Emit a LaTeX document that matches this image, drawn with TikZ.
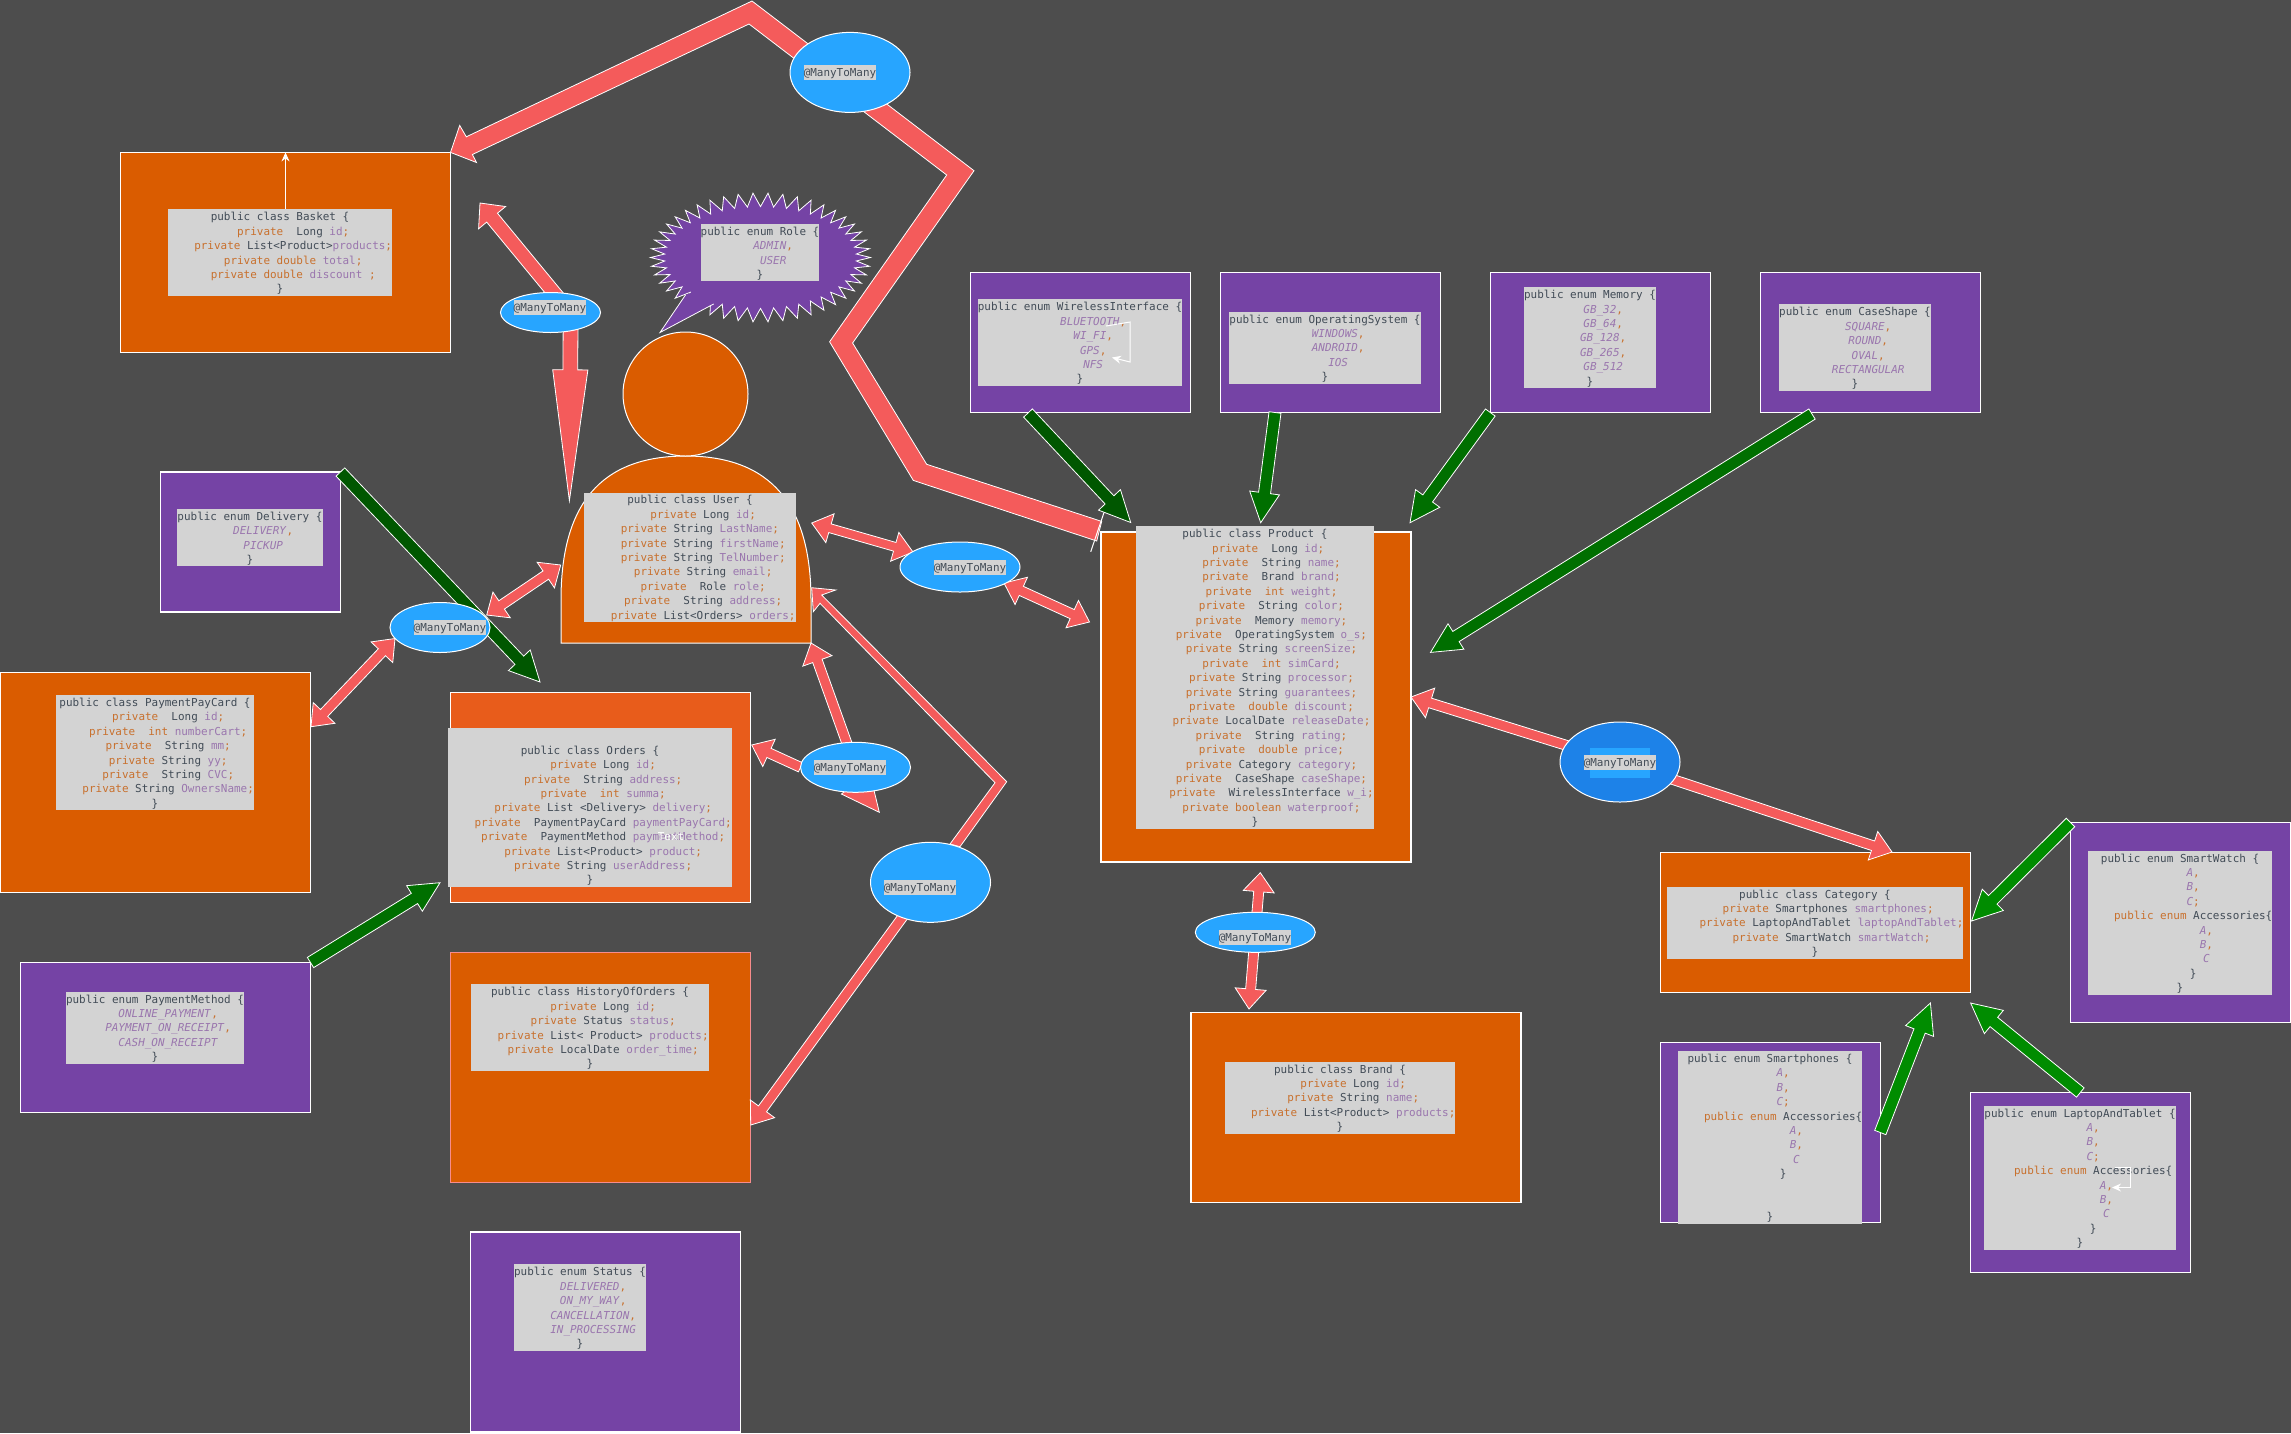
\documentclass[tikz,border=0pt]{standalone}
\usepackage{fontspec}
\setmainfont{DejaVu Sans Mono}
\usepackage{xcolor}
\usetikzlibrary{arrows.meta,calc,positioning,shapes.geometric}

\definecolor{canvasgray}{HTML}{4D4D4D}
\definecolor{classorange}{HTML}{DA5C00}
\definecolor{ordersorange}{HTML}{E85C1B}
\definecolor{enumpurple}{HTML}{7543A5}
\definecolor{codegray}{HTML}{D3D3D3}
\definecolor{codetext}{HTML}{414B56}
\definecolor{kwcolor}{HTML}{C8702D}
\definecolor{fdcolor}{HTML}{9A76AE}
\definecolor{linkred}{HTML}{F45B5B}
\definecolor{manyblue}{HTML}{27A5FF}
\definecolor{deepblue}{HTML}{1D82E8}
\definecolor{greendark}{HTML}{005700}
\definecolor{greenmid}{HTML}{006F00}
\definecolor{greenlight}{HTML}{008C00}

\newcommand{\kw}[1]{\textcolor{kwcolor}{#1}}
\newcommand{\fd}[1]{\textcolor{fdcolor}{#1}\kw{;}}
\newcommand{\ev}[1]{\textcolor{fdcolor}{\textit{#1}}}
\newcommand{\evc}[1]{\ev{#1}\kw{,}}
\newcommand{\lead}{~~~~}
\newcommand{\fs}{\rule{0pt}{10.6pt}}

\tikzset{
  flexlink/.style n args={3}{to path={
    ($(\tikztotarget)!#3pt!(\tikztostart)$) coordinate (fc)
    ($(\tikztostart)!#1pt!90:(\tikztotarget)$)
    -- ($(fc)!#1pt!-90:(\tikztostart)$) -- ($(fc)!#2pt!-90:(\tikztostart)$)
    -- (\tikztotarget)
    -- ($(fc)!#2pt!90:(\tikztostart)$) -- ($(fc)!#1pt!90:(\tikztostart)$)
    -- ($(\tikztostart)!#1pt!-90:(\tikztotarget)$) -- cycle}},
  flexboth/.style n args={3}{to path={
    ($(\tikztostart)!#3pt!(\tikztotarget)$) coordinate (fa)
    ($(\tikztotarget)!#3pt!(\tikztostart)$) coordinate (fb)
    (\tikztostart)
    -- ($(fa)!#2pt!90:(fb)$) -- ($(fa)!#1pt!90:(fb)$)
    -- ($(fb)!#1pt!-90:(fa)$) -- ($(fb)!#2pt!-90:(fa)$)
    -- (\tikztotarget)
    -- ($(fb)!#2pt!90:(fa)$) -- ($(fb)!#1pt!90:(fa)$)
    -- ($(fa)!#1pt!-90:(fb)$) -- ($(fa)!#2pt!-90:(fb)$) -- cycle}}
}

\pgfdeclarelayer{front}
\pgfsetlayers{main,front}

\begin{document}
\begin{tikzpicture}[x=1pt,y=-1pt]
	\tikzstyle{classbox}
	  =[draw=white, fill=classorange, rectangle, line width=1.2, outer sep=0, inner sep=0]
	\tikzstyle{enumbox}
	  =[draw=white, fill=enumpurple, rectangle, line width=1.2, outer sep=0, inner sep=0]
	\tikzstyle{codebox}
	  =[fill=codegray, rectangle, inner sep=0, align=center, text=codetext,
	  font=\fontsize{10.95}{14.4}\selectfont]
	\tikzstyle{manybox}
	  =[draw=white, fill=manyblue, ellipse, line width=1, inner sep=0, outer sep=0]
	\tikzstyle{manylabel}
	  =[fill=codegray, rectangle, inner sep=0, text=codetext, minimum height=15,
	  font=\fontsize{10.95}{14.4}\selectfont,
	  execute at begin node={\rule{0pt}{11.4pt}},
	  execute at end node={\rule[-3pt]{0pt}{3pt}}]
	\tikzstyle{redlink}
	  =[draw=white, fill=linkred, line width=0.8, line join=miter]
	\tikzstyle{greenA}
	  =[draw=white, fill=greendark, line width=0.8]
	\tikzstyle{greenB}
	  =[draw=white, fill=greenmid, line width=0.8]
	\tikzstyle{greenC}
	  =[draw=white, fill=greenlight, line width=0.8]
	\tikzstyle{thinwhite}
	  =[draw=white, line width=1, -{Stealth[length=9pt,width=8pt]}]

	\useasboundingbox (0,0) rectangle (2291,1433);
	\fill[canvasgray] (0,0) rectangle (2291,1433);

	\node[classbox, minimum width=330, minimum height=200] (basket)
	  at (285.5,252.4) {};
	\node[classbox, minimum width=310, minimum height=220] (paycard)
	  at (155.4,782.5) {};
	\node[classbox, fill=ordersorange, minimum width=300, minimum height=210] (orders)
	  at (600.5,797.5) {};
	\node[classbox, draw=linkred!70!white, minimum width=300, minimum height=230] (history)
	  at (600.4,1067.4) {};
	\node[classbox, minimum width=330, minimum height=190] (brand)
	  at (1356,1107.5) {};
	\node[classbox, minimum width=310, minimum height=330] (product)
	  at (1256,697) {};
	\node[classbox, minimum width=310, minimum height=140] (category)
	  at (1815.6,922.5) {};

	\node[enumbox, minimum width=180, minimum height=140] (delivery)
	  at (250.4,542) {};
	\node[enumbox, minimum width=290, minimum height=150] (paymethod)
	  at (165.5,1037.5) {};
	\node[enumbox, minimum width=270, minimum height=200] (status)
	  at (605.5,1332) {};
	\node[enumbox, minimum width=220, minimum height=140] (wireless)
	  at (1080.3,342.5) {};
	\node[enumbox, minimum width=220, minimum height=140] (opsystem)
	  [right=30pt of wireless] {};
	\node[enumbox, minimum width=220, minimum height=140] (memory)
	  [right=50pt of opsystem] {};
	\node[enumbox, minimum width=220, minimum height=140] (caseshape)
	  [right=50pt of memory] {};
	\node[enumbox, minimum width=220, minimum height=200] (smartwatch)
	  at (2180.5,922.5) {};
	\node[enumbox, minimum width=220, minimum height=180] (smartphones)
	  at (1770.3,1132.5) {};
	\node[enumbox, minimum width=220, minimum height=180] (laptop)
	  at (2080.3,1182.5) {};

	\fill[classorange] (561,643) -- (561,600) .. controls (561,505) and (600,456) .. (685.7,456)
	  .. controls (771,456) and (811,505) .. (811,600) -- (811,643) -- cycle;
	\draw[white, line width=1] (561,643) -- (561,600) .. controls (561,505) and (600,456) .. (685.7,456)
	  .. controls (771,456) and (811,505) .. (811,600) -- (811,643) -- cycle;
	\node[classbox, ellipse, line width=1, minimum width=125, minimum height=124] (userhead)
	  at (685.5,394) {};
	\coordinate (usercorner) at (811,643);

	\draw[enumbox, line width=0.8] plot[samples=92, domain=0:91]
	  ({760.5+(103+7*cos(180*\x))*cos(\x*3.913)},{257.5+(57.7+6.8*cos(180*\x))*sin(\x*3.913)}) -- cycle;
	\fill[enumpurple] (660,332.5) -- (685.7,294.6) -- (730,280) -- (713.8,303.9) -- cycle;
	\draw[white, line width=0.8] (685.7,294.6) -- (660,332.5) -- (713.8,303.9);

	\node[codebox, minimum width=224, minimum height=87] (basketcode)
	  at (280,252.5) {\fs public class Basket \{\\
	  \lead\kw{private}~~Long \fd{id}\\
	  \lead\kw{private} List<Product>\fd{products}\\
	  \lead\kw{private double} \fd{total}\\
	  \lead\kw{private double} \textcolor{fdcolor}{discount} \kw{;}\\
	  \}};
	\node[codebox, minimum width=118, minimum height=57.6] (rolecode)
	  at (760,252.5) {\fs public enum Role \{\\
	  \lead\evc{ADMIN}\\
	  \lead\ev{USER}\\
	  \}};
	\node[codebox, minimum width=212, minimum height=129] (usercode)
	  at (690,557.4) {\fs public class User \{\\
	  \lead\kw{private} Long \fd{id}\\
	  ~~~\kw{private} String \fd{LastName}\\
	  \lead\kw{private} String \fd{firstName}\\
	  \lead\kw{private} String \fd{TelNumber}\\
	  \lead\kw{private} String \fd{email}\\
	  \lead\kw{private}~~Role \fd{role}\\
	  \lead\kw{private}~~String \fd{address}\\
	  \lead\kw{private} List<Orders> \fd{orders}};
	\node[codebox, minimum width=146, minimum height=57.6] (deliverycode)
	  at (250,537.5) {\fs public enum Delivery \{\\
	  \lead\evc{DELIVERY}\\
	  \lead\ev{PICKUP}\\
	  \}};
	\node[codebox, minimum width=198, minimum height=115.2] (paycardcode)
	  at (155,752.5) {\fs public class PaymentPayCard \{\\
	  \lead\kw{private}~~Long \fd{id}\\
	  \lead\kw{private~~int} \fd{numberCart}\\
	  \lead\kw{private}~~String \fd{mm}\\
	  \lead\kw{private} String \fd{yy}\\
	  \lead\kw{private}~~String \fd{CVC}\\
	  \lead\kw{private} String \fd{OwnersName}\\
	  \}};
	\node[codebox, minimum width=284, minimum height=158.4] (orderscode)
	  at (590,807.5) {\fs~\\
	  public class Orders \{\\
	  \lead\kw{private} Long \fd{id}\\
	  \lead\kw{private}~~String \fd{address}\\
	  \lead\kw{private~~int} \fd{summa}\\
	  \lead\kw{private} List <Delivery> \fd{delivery}\\
	  \lead\kw{private}~~PaymentPayCard \fd{paymentPayCard}\\
	  \lead\kw{private}~~PaymentMethod \fd{paymentMethod}\\
	  \lead\kw{private} List<Product> \fd{product}\\
	  \lead\kw{private} String \fd{userAddress}\\
	  \}};
	\node[manylabel, fill=none, text=white, minimum height=0] (orderstext)
	  at (671,836.7) {Text};
	\node[codebox, minimum width=178, minimum height=72] (paymethodcode)
	  at (155,1027.5) {\fs public enum PaymentMethod \{\\
	  \lead\evc{ONLINE\_PAYMENT}\\
	  \lead\evc{PAYMENT\_ON\_RECEIPT}\\
	  \lead\ev{CASH\_ON\_RECEIPT}\\
	  \}};
	\node[codebox, minimum width=238, minimum height=86.4] (historycode)
	  at (590,1027.5) {\fs public class HistoryOfOrders \{\\
	  \lead\kw{private} Long \fd{id}\\
	  \lead\kw{private} Status \fd{status}\\
	  \lead\kw{private} List< Product> \fd{products}\\
	  \lead\kw{private} LocalDate \fd{order\_time}\\
	  \}};
	\node[codebox, minimum width=132, minimum height=86.4] (statuscode)
	  at (580,1307.5) {\fs public enum Status \{\\
	  \lead\evc{DELIVERED}\\
	  \lead\evc{ON\_MY\_WAY}\\
	  \lead\evc{CANCELLATION}\\
	  \lead\ev{IN\_PROCESSING}\\
	  \}};
	\node[codebox, minimum width=230, minimum height=72] (brandcode)
	  at (1340,1097.5) {\fs public class Brand \{\\
	  \lead\kw{private} Long \fd{id}\\
	  \lead\kw{private} String \fd{name}\\
	  \lead\kw{private} List<Product> \fd{products}\\
	  \}};
	\node[codebox, minimum width=238, minimum height=302.4] (productcode)
	  at (1255,677.3) {\fs public class Product \{\\
	  \lead\kw{private}~~Long \fd{id}\\
	  \lead~\kw{private}~~String \fd{name}\\
	  \lead~\kw{private}~~Brand \fd{brand}\\
	  \lead~\kw{private~~int} \fd{weight}\\
	  \lead~\kw{private}~~String \fd{color}\\
	  \lead~\kw{private}~~Memory \fd{memory}\\
	  \lead~\kw{private}~~OperatingSystem \fd{o\_s}\\
	  \lead~\kw{private} String \fd{screenSize}\\
	  \lead~\kw{private~~int} \fd{simCard}\\
	  \lead~\kw{private} String \fd{processor}\\
	  \lead~\kw{private} String \fd{guarantees}\\
	  \lead~\kw{private~~double} \fd{discount}\\
	  \lead~\kw{private} LocalDate \fd{releaseDate}\\
	  \lead~\kw{private}~~String \fd{rating}\\
	  \lead~\kw{private~~double} \fd{price}\\
	  \lead~\kw{private} Category \fd{category}\\
	  \lead~\kw{private}~~CaseShape \fd{caseShape}\\
	  \lead~\kw{private}~~WirelessInterface \fd{w\_i}\\
	  \lead~\kw{private boolean} \fd{waterproof}\\
	  \}};
	\node[codebox, minimum width=204, minimum height=86.4] (wirelesscode)
	  at (1080,342.5) {\fs public enum WirelessInterface \{\\
	  \lead\evc{BLUETOOTH}\\
	  \lead\evc{WI\_FI}\\
	  \lead\evc{GPS}\\
	  \lead\ev{NFS}\\
	  \}};
	\node[codebox, minimum width=192, minimum height=72] (opsystemcode)
	  at (1325,347.5) {\fs public enum OperatingSystem \{\\
	  \lead\evc{WINDOWS}\\
	  \lead\evc{ANDROID}\\
	  \lead\ev{IOS}\\
	  \}};
	\node[codebox, minimum width=132.5, minimum height=100.8] (memorycode)
	  at (1590,337.5) {\fs public enum Memory \{\\
	  \lead\evc{GB\_32}\\
	  \lead\evc{GB\_64}\\
	  \lead\evc{GB\_128}\\
	  \lead\evc{GB\_265}\\
	  \lead\ev{GB\_512}\\
	  \}};
	\node[codebox, minimum width=152.6, minimum height=86.4] (caseshapecode)
	  at (1855,347.5) {\fs public enum CaseShape \{\\
	  \lead\evc{SQUARE}\\
	  \lead\evc{ROUND}\\
	  \lead\evc{OVAL}\\
	  \lead\ev{RECTANGULAR}\\
	  \}};
	\node[codebox, minimum width=296, minimum height=72] (categorycode)
	  at (1815,922.5) {\fs public class Category \{\\
	  \lead\kw{private} Smartphones \fd{smartphones}\\
	  \lead~\kw{private} LaptopAndTablet \fd{laptopAndTablet}\\
	  \lead~\kw{private} SmartWatch \fd{smartWatch}\\
	  \}};
	\node[codebox, minimum width=184, minimum height=144] (smartwatchcode)
	  at (2180,922.5) {\fs public enum SmartWatch \{\\
	  \lead\evc{A}\\
	  \lead\evc{B}\\
	  \lead\ev{C}\kw{;}\\
	  \lead\kw{public enum} Accessories\{\\
	  \lead\lead\evc{A}\\
	  \lead\lead\evc{B}\\
	  \lead\lead\ev{C}\\
	  \lead\}\\
	  \}};
	\node[codebox, minimum width=184, minimum height=172.8] (smartphonescode)
	  at (1770,1137.2) {\fs public enum Smartphones \{\\
	  \lead\evc{A}\\
	  \lead\evc{B}\\
	  \lead\ev{C}\kw{;}\\
	  \lead\kw{public enum} Accessories\{\\
	  \lead\lead\evc{A}\\
	  \lead\lead\evc{B}\\
	  \lead\lead\ev{C}\\
	  \lead\}\\
	  ~\\
	  ~\\
	  \}};
	\node[codebox, minimum width=192, minimum height=144] (laptopcode)
	  at (2080,1177.5) {\fs public enum LaptopAndTablet \{\\
	  \lead\evc{A}\\
	  \lead\evc{B}\\
	  \lead\ev{C}\kw{;}\\
	  \lead\kw{public enum} Accessories\{\\
	  \lead\lead\evc{A}\\
	  \lead\lead\evc{B}\\
	  \lead\lead\ev{C}\\
	  \lead\}\\
	  \}};

	\begin{pgfonlayer}{front}
	\node[manybox, minimum width=120, minimum height=80] (manytop)
	  at (850,72.4) {};
	\node[manylabel] (manytoplabel) at (840,72.5) {@ManyToMany};
	\node[manybox, minimum width=100, minimum height=40] (manybasket)
	  at (550.5,312.5) {};
	\node[manylabel] (manybasketlabel) at (550,307) {@ManyToMany};
	\node[manybox, minimum width=100, minimum height=50] (manypay)
	  at (440,627.5) {};
	\node[manylabel] (manypaylabel) at (450,627) {@ManyToMany};
	\node[manybox, minimum width=120, minimum height=50] (manyuser)
	  at (960,567) {};
	\node[manylabel] (manyuserlabel) at (970,567) {@ManyToMany};
	\node[manybox, minimum width=110, minimum height=50] (manyorders)
	  at (855.5,767.3) {};
	\node[manylabel] (manyorderslabel) at (850,767.5) {@ManyToMany};
	\node[manybox, minimum width=120, minimum height=80] (manyhistory)
	  at (930.5,882.3) {};
	\node[manylabel] (manyhistorylabel) at (920,887.5) {@ManyToMany};
	\node[manybox, fill=deepblue, minimum width=120, minimum height=80] (manycat)
	  at (1620,762) {};
	\node[fill=manyblue, rectangle, inner sep=0, minimum width=60, minimum height=30] (manycatglow)
	  at (1620.3,762.7) {};
	\node[manylabel] (manycatlabel) at (1620,762.5) {@ManyToMany};
	\node[manybox, minimum width=120, minimum height=40] (manybrand)
	  at (1255.3,932.3) {};
	\node[manylabel] (manybrandlabel) at (1255,937.5) {@ManyToMany};
	\end{pgfonlayer}

	\coordinate (basketfree) at (480,203);
	\coordinate (basketfrom) at (560,300);
	\coordinate (userfree) at (569.4,500.8);
	\coordinate (userfrom) at (570.6,325);
	\coordinate (userwest) at (560.7,565);
	\coordinate (payuser) at (486.7,615);
	\coordinate (paynear) at (395,638.5);
	\coordinate (payeast) at (311,726.7);
	\coordinate (usereast) at (811.7,523);
	\coordinate (usernear) at (913,552);
	\coordinate (prodnear) at (1004,583);
	\coordinate (prodwest) at (1089.5,622);
	\coordinate (ordersfree) at (751.7,745);
	\coordinate (downfree) at (879.3,812.3);
	\coordinate (downfrom) at (850,776);
	\coordinate (historyfree) at (750.7,1125);
	\coordinate (historyfrom) at (915,900);
	\coordinate (catfree) at (1892,852);
	\coordinate (prodsouth) at (1260.3,872.7);
	\coordinate (brandfree) at (1249,1009);

	\coordinate (ordersgreen) at (540,682);
	\coordinate (ordersgreenB) at (440,882.7);
	\coordinate (wirelessout) at (1028,413);
	\coordinate (wirelessin) at (1130.7,522.5);
	\coordinate (opsystemout) at (1275,412.5);
	\coordinate (opsystemin) at (1260.7,522.7);
	\coordinate (memoryin) at (1410,522.7);
	\coordinate (caseout) at (1812,414);
	\coordinate (casein) at (1430.5,652.4);
	\coordinate (watchin) at (1971.5,921);
	\coordinate (phonesin) at (1930.4,1003);
	\coordinate (laptopin) at (1970.6,1003);

	\draw[redlink] (basket.north east) -- (459.7,125.4) -- (466.3,136.8) -- (752,1)
	  -- (974,170.7) -- (852.6,343) -- (926.7,464.3) -- (1101.7,521.4)
	  -- (1096.7,541) -- (913.3,480.4) -- (829.6,341.8) -- (946.7,175)
	  -- (749,24) -- (472.4,154.5) -- (476.5,162.5) -- cycle;
	\draw[white, line width=1] (1104,512.5) -- (1090.7,551.8);
	\draw[redlink] (811.7,587.7) -- (835.7,590) -- (821.7,595) -- (1006.7,781.7)
	  -- (960,846.7) -- (950,844) -- (995,782.7) -- (820,603.3)
	  -- (813.3,611.7) -- cycle;

	\draw[redlink, flexlink={7}{17.5}{19}] (basketfrom) to (basketfree);
	\draw[redlink, flexlink={7.4}{17.6}{131}] (userfrom) to (userfree);
	\draw[redlink, flexboth={5}{15.5}{18}] (payuser) to (userwest);
	\draw[redlink, flexboth={5}{15}{19}] (paynear) to (payeast);
	\draw[redlink, flexboth={4.5}{15}{19}] (usereast) to (usernear);
	\draw[redlink, flexboth={5}{15}{19}] (prodnear) to (prodwest);
	\draw[redlink, flexlink={5}{15.5}{19}] (manyorders) to (usercorner);
	\draw[redlink, flexlink={5}{15}{19}] (manyorders.west) to (ordersfree);
	\draw[redlink, flexlink={5}{18}{38}] (downfrom) to (downfree);
	\draw[redlink, flexlink={5}{15}{20}] (historyfrom) to (historyfree);
	\draw[redlink, flexlink={5}{15.5}{20}] (manycat) to (product.east);
	\draw[redlink, flexlink={5}{15}{20}] (manycat) to (catfree);
	\draw[redlink, flexlink={5}{15.5}{19}] (manybrand) to (prodsouth);
	\draw[redlink, flexlink={5}{15.5}{20}] (manybrand) to (brandfree);

	\draw[greenA, flexlink={6}{15}{30}] (delivery.north east) to (ordersgreen);
	\draw[greenB, flexlink={6}{15}{30}] (paymethod.north east) to (ordersgreenB);
	\draw[greenA, flexlink={6}{15}{31}] (wirelessout) to (wirelessin);
	\draw[greenB, flexlink={6}{15}{30}] (opsystemout) to (opsystemin);
	\draw[greenB, flexlink={6}{15}{30}] (memory.south west) to (memoryin);
	\draw[greenB, flexlink={6}{15}{30}] (caseout) to (casein);
	\draw[greenC, flexlink={6}{15}{30}] (smartwatch.north west) to (watchin);
	\draw[greenC, flexlink={6}{15}{30}] (smartphones.east) to (phonesin);
	\draw[greenC, flexlink={6}{15}{30}] (laptop.north) to (laptopin);

	\draw[thinwhite] (basket.north |- basketcode.north) -- (basket.north);
	\draw[thinwhite] (1106,326) -- (1130,322) -- (1130,362) -- (1112,357.5);
	\draw[thinwhite] (2115,1167) -- (2130,1167) -- (2130,1187.5) -- (2112,1187.5);
\end{tikzpicture}
\end{document}
